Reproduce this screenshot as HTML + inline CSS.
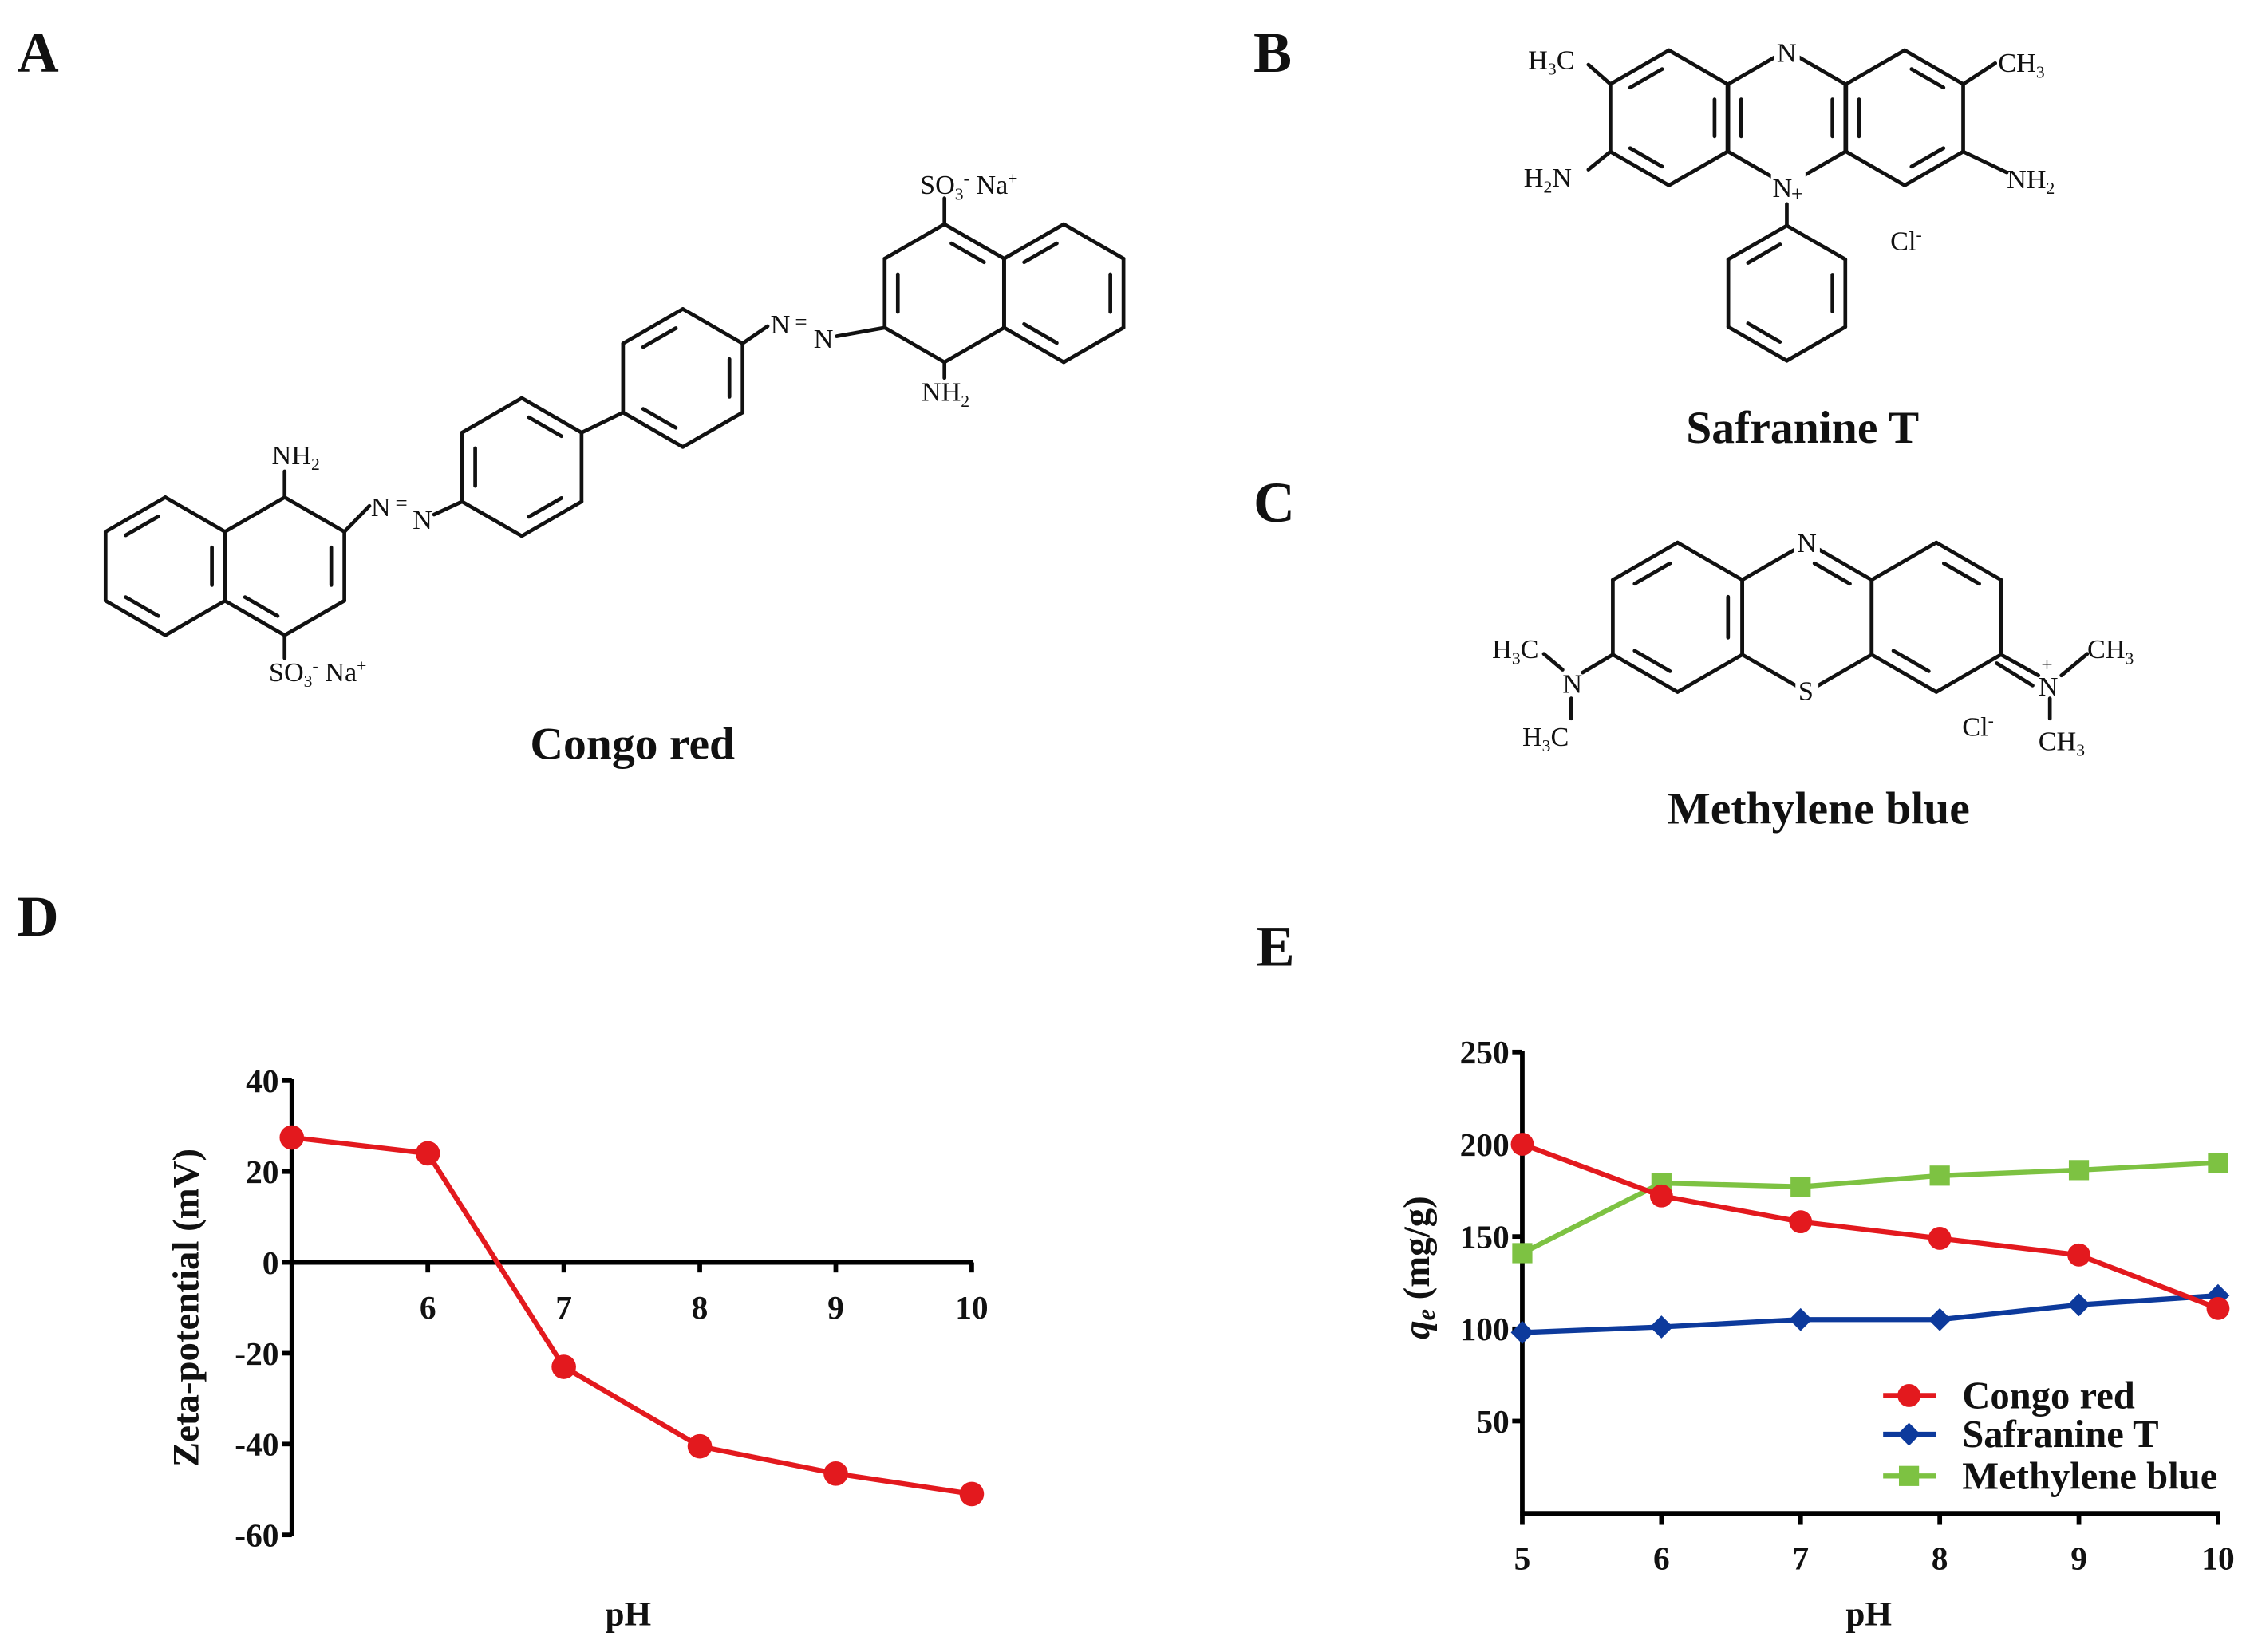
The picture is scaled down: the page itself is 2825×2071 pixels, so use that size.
<!DOCTYPE html>
<html><head><meta charset="utf-8"><style>
html,body{margin:0;padding:0;background:#fff;}
svg{display:block;font-family:"Liberation Serif",serif;}
</style></head><body>
<svg id="fig" width="2825" height="2071" viewBox="0 0 1568 1149.5" xmlns="http://www.w3.org/2000/svg">
<rect width="1568" height="1149.5" fill="#fff"/>
<g font-weight="bold" font-size="40" fill="#111">
<text x="12" y="50">A</text>
<text x="872" y="50">B</text>
<text x="872" y="363">C</text>
<text x="12" y="651">D</text>
<text x="874" y="672">E</text>
</g>
<g id="mol" stroke="#111" stroke-width="2.6" fill="none" stroke-linecap="round"></g>
<g fill="#fff">
<rect x="1234" y="27" width="18" height="18"/>
<rect x="1232" y="120" width="24" height="20"/>
<rect x="1248" y="367" width="18" height="18"/>
<rect x="1249" y="470" width="16" height="18"/>
</g>
<g font-size="19" fill="#111">
<text x="189" y="323">NH<tspan font-size="12" dy="4">2</tspan></text>
<text x="187" y="474">SO<tspan font-size="12" dy="4">3</tspan><tspan font-size="12" dy="-11">-</tspan><tspan dy="7"> Na</tspan><tspan font-size="12" dy="-7">+</tspan></text>
<text x="258" y="359">N</text><text x="275" y="355" font-size="15">=</text><text x="287" y="368">N</text>
<text x="536" y="232">N</text><text x="553" y="229" font-size="15">=</text><text x="566" y="242">N</text>
<text x="641" y="279">NH<tspan font-size="12" dy="4">2</tspan></text>
<text x="640" y="135">SO<tspan font-size="12" dy="4">3</tspan><tspan font-size="12" dy="-11">-</tspan><tspan dy="7"> Na</tspan><tspan font-size="12" dy="-7">+</tspan></text>
<text x="1236" y="43">N</text>
<text x="1233" y="137">N</text><text x="1246" y="140" font-size="15">+</text>
<text x="1063" y="48">H<tspan font-size="12" dy="4">3</tspan><tspan dy="-4">C</tspan></text>
<text x="1390" y="50">CH<tspan font-size="12" dy="4">3</tspan></text>
<text x="1060" y="130">H<tspan font-size="12" dy="4">2</tspan><tspan dy="-4">N</tspan></text>
<text x="1396" y="131">NH<tspan font-size="12" dy="4">2</tspan></text>
<text x="1315" y="174">Cl<tspan font-size="12" dy="-7">-</tspan></text>
<text x="1250" y="384">N</text>
<text x="1251" y="487">S</text>
<text x="1087" y="482">N</text>
<text x="1038" y="458">H<tspan font-size="12" dy="4">3</tspan><tspan dy="-4">C</tspan></text>
<text x="1059" y="519">H<tspan font-size="12" dy="4">3</tspan><tspan dy="-4">C</tspan></text>
<text x="1418" y="484">N</text><text x="1420" y="467" font-size="14">+</text>
<text x="1452" y="458">CH<tspan font-size="12" dy="4">3</tspan></text>
<text x="1418" y="522">CH<tspan font-size="12" dy="4">3</tspan></text>
<text x="1365" y="512">Cl<tspan font-size="12" dy="-7">-</tspan></text>
</g>
<g font-weight="bold" font-size="32" fill="#111" text-anchor="middle">
<text x="440" y="528">Congo red</text>
<text x="1254" y="308">Safranine T</text>
<text x="1265" y="573">Methylene blue</text>
</g>
<g id="chartD"></g>
<g id="chartE"></g>
</svg>
<script>
// ---- Chart D data ----
const dPH = [5, 6, 7, 8, 9, 10];
const dZeta = [27.5, 24, -23, -40.5, -46.5, -51];
const dYTicks = [40, 20, 0, -20, -40, -60];
const dXTicks = [6, 7, 8, 9, 10];
// ---- Chart E data ----
const ePH = [5, 6, 7, 8, 9, 10];
const eCongo = [200, 172, 158, 149, 140, 111];
const eSafranine = [98, 101, 105, 105, 113, 118];
const eMB = [141, 179, 177, 183, 186, 190];
const eYTicks = [50, 100, 150, 200, 250];
const eXTicks = [5, 6, 7, 8, 9, 10];
const eSeriesNames = ["Congo red", "Safranine T", "Methylene blue"];

const NS = "http://www.w3.org/2000/svg";
function mk(parent, tag, attrs) {
  const e = document.createElementNS(NS, tag);
  for (const k in attrs) e.setAttribute(k, attrs[k]);
  parent.appendChild(e);
  return e;
}
const RED = "#e3191e", BLUE = "#0d3a9c", GREEN = "#7dc242";

// ---------- molecules ----------
const mol = document.getElementById("mol");
function hexPts(cx, cy, s) {
  const p = [];
  for (let i = 0; i < 6; i++) {
    const a = (-90 + 60 * i) * Math.PI / 180;
    p.push([cx + s * Math.cos(a), cy + s * Math.sin(a)]);
  }
  return p;
}
function ring(cx, cy, s, doubles) {
  const p = hexPts(cx, cy, s);
  for (let i = 0; i < 6; i++) {
    const a = p[i], b = p[(i + 1) % 6];
    mk(mol, "line", {x1: a[0], y1: a[1], x2: b[0], y2: b[1]});
    if (doubles.indexOf(i) >= 0) {
      const k = 0.78, t = 0.15;
      const ia = [cx + (a[0] - cx) * k, cy + (a[1] - cy) * k], ib = [cx + (b[0] - cx) * k, cy + (b[1] - cy) * k];
      mk(mol, "line", {x1: ia[0] + (ib[0] - ia[0]) * t, y1: ia[1] + (ib[1] - ia[1]) * t, x2: ib[0] + (ia[0] - ib[0]) * t, y2: ib[1] + (ia[1] - ib[1]) * t});
    }
  }
  return p;
}
function bond(x1, y1, x2, y2) { mk(mol, "line", {x1: x1, y1: y1, x2: x2, y2: y2}); }
// Congo red
const s = 48;
ring(115, 394, s, [1, 3, 5]);
const L2 = ring(198, 394, s, [1, 3]);
const R1 = ring(363, 325, s, [0, 2, 4]);
const R2 = ring(475, 263, s, [1, 3, 5]);
const N1 = ring(657, 204, s, [4, 0]);
ring(740, 204, s, [1, 3, 5]);
bond(198, 346, 198, 328); bond(198, 442, 198, 458);
bond(L2[1][0], L2[1][1], 257, 352);
bond(302, 358, R1[4][0], R1[4][1]);
bond(R1[1][0], R1[1][1], R2[4][0], R2[4][1]);
bond(R2[1][0], R2[1][1], 534, 227);
bond(582, 234, N1[4][0], N1[4][1]);
bond(657, 156, 657, 138); bond(657, 252, 657, 263);
// Safranine T
const SL = ring(1161, 82, 47, [1, 3, 5]);
ring(1243, 82, 47, [1, 4]);
const SR = ring(1325, 82, 47, [0, 2, 4]);
bond(SL[5][0], SL[5][1], 1105, 45); bond(SL[4][0], SL[4][1], 1105, 118);
bond(SR[1][0], SR[1][1], 1388, 44); bond(SR[2][0], SR[2][1], 1396, 120);
bond(1243, 142, 1243, 157);
ring(1243, 204, 47, [1, 3, 5]);
// Methylene blue
const ms = 52;
const ML = ring(1167, 429.5, ms, [1, 3, 5]);
ring(1257, 429.5, ms, [0]);
const MR = ring(1347, 429.5, ms, [0, 3]);
bond(MR[2][0], MR[2][1], 1418, 470); mk(mol, "line", {x1: MR[2][0] - 3, y1: MR[2][1] + 6, x2: 1414, y2: 477});
bond(ML[4][0], ML[4][1], 1101, 468);
bond(1087, 466, 1074, 455); bond(1093, 486, 1093, 500);
bond(1434, 470, 1452, 455); bond(1426, 486, 1426, 500);

// ---------- Chart D ----------
const gD = document.getElementById("chartD");
const dX = v => 203 + (v - 5) * (676 - 203) / 5;
const dY = v => 752 + (40 - v) * (1068 - 752) / 100;
const axD = mk(gD, "g", {stroke: "#000", "stroke-width": 3.2, fill: "none"});


mk(axD, "line", {x1: dX(5), y1: dY(40) - 1, x2: dX(5), y2: dY(-60) + 1});
mk(axD, "line", {x1: dX(5), y1: dY(0), x2: dX(10) + 1, y2: dY(0)});
dYTicks.forEach(t => {
  mk(axD, "line", {x1: dX(5) - 7, y1: dY(t), x2: dX(5), y2: dY(t)});
  const tx = mk(gD, "text", {x: dX(5) - 9, y: dY(t) + 8, "text-anchor": "end", "font-size": 23, "font-weight": "bold", fill: "#111"});
  tx.textContent = String(t);
  
  
});
dXTicks.forEach(t => {
  mk(axD, "line", {x1: dX(t), y1: dY(0), x2: dX(t), y2: dY(0) + 7});
  const tx = mk(gD, "text", {x: dX(t), y: dY(0) + 39, "text-anchor": "middle", "font-size": 23, "font-weight": "bold", fill: "#111"});
  tx.textContent = String(t);
  
  
});
const dLine = mk(gD, "polyline", {points: dPH.map((p, i) => dX(p) + "," + dY(dZeta[i])).join(" "), fill: "none", stroke: RED, "stroke-width": 3.5});


dPH.forEach((p, i) => {
  const c = mk(gD, "circle", {cx: dX(p), cy: dY(dZeta[i]), r: 8.5, fill: RED});
  
  
});
const dYT = mk(gD, "text", {x: 0, y: 0, transform: "translate(138,910) rotate(-90)", "text-anchor": "middle", "font-size": 26, "font-weight": "bold", fill: "#111"});
dYT.textContent = "Zeta-potential (mV)";


const dXT = mk(gD, "text", {x: 437, y: 1131, "text-anchor": "middle", "font-size": 24, "font-weight": "bold", fill: "#111"});
dXT.textContent = "pH";



// ---------- Chart E ----------
const gE = document.getElementById("chartE");
const eX = v => 1059 + (v - 5) * (1543 - 1059) / 5;
const eY = v => 1053 - v * (1053 - 732) / 250;
const axE = mk(gE, "g", {stroke: "#000", "stroke-width": 3.2, fill: "none"});


mk(axE, "line", {x1: eX(5), y1: eY(250) - 1, x2: eX(5), y2: eY(0)});
mk(axE, "line", {x1: eX(5) - 1.5, y1: eY(0), x2: eX(10) + 1.5, y2: eY(0)});
eYTicks.forEach(t => {
  mk(axE, "line", {x1: eX(5) - 7, y1: eY(t), x2: eX(5), y2: eY(t)});
  const tx = mk(gE, "text", {x: eX(5) - 9, y: eY(t) + 8, "text-anchor": "end", "font-size": 23, "font-weight": "bold", fill: "#111"});
  tx.textContent = String(t);
  
  
});
eXTicks.forEach(t => {
  mk(axE, "line", {x1: eX(t), y1: eY(0), x2: eX(t), y2: eY(0) + 8});
  const tx = mk(gE, "text", {x: eX(t), y: eY(0) + 39, "text-anchor": "middle", "font-size": 23, "font-weight": "bold", fill: "#111"});
  tx.textContent = String(t);
  
  
});
function marker(g, shape, x, y, col) {
  if (shape === "circle") return mk(g, "circle", {cx: x, cy: y, r: 8, fill: col});
  if (shape === "diamond") return mk(g, "polygon", {points: [x, y - 8, x + 8, y, x, y + 8, x - 8, y].join(" "), fill: col});
  return mk(g, "rect", {x: x - 7, y: y - 7, width: 14, height: 14, fill: col});
}
const eSeries = [[eMB, GREEN, "square", "methylene-blue"], [eSafranine, BLUE, "diamond", "safranine-t"], [eCongo, RED, "circle", "congo-red"]];
eSeries.forEach(sr => {
  const ln = mk(gE, "polyline", {points: ePH.map((p, i) => eX(p) + "," + eY(sr[0][i])).join(" "), fill: "none", stroke: sr[1], "stroke-width": 3.5});
  
  
  ePH.forEach((p, i) => {
    const m = marker(gE, sr[2], eX(p), eY(sr[0][i]), sr[1]);
    
    
  });
});
// legend
const legCols = [RED, BLUE, GREEN], legShapes = ["circle", "diamond", "square"], legY = [971, 998, 1027];
eSeriesNames.forEach((n, i) => {
  const lg = mk(gE, "g", {});
  
  
  mk(lg, "line", {x1: 1310, y1: legY[i], x2: 1347, y2: legY[i], stroke: legCols[i], "stroke-width": 3.5});
  marker(lg, legShapes[i], 1328, legY[i], legCols[i]);
  const t = mk(lg, "text", {x: 1365, y: legY[i] + 9, "font-size": 27, "font-weight": "bold", fill: "#111"});
  t.textContent = n;
});
const eYT = mk(gE, "text", {x: 0, y: 0, transform: "translate(994,882) rotate(-90)", "text-anchor": "middle", "font-size": 26, "font-weight": "bold", fill: "#111"});
eYT.innerHTML = '<tspan font-style="italic">q</tspan><tspan font-style="italic" font-size="18" dy="4">e</tspan><tspan dy="-4"> (mg/g)</tspan>';


const eXT = mk(gE, "text", {x: 1300, y: 1131, "text-anchor": "middle", "font-size": 24, "font-weight": "bold", fill: "#111"});
eXT.textContent = "pH";


</script>
</body></html>
